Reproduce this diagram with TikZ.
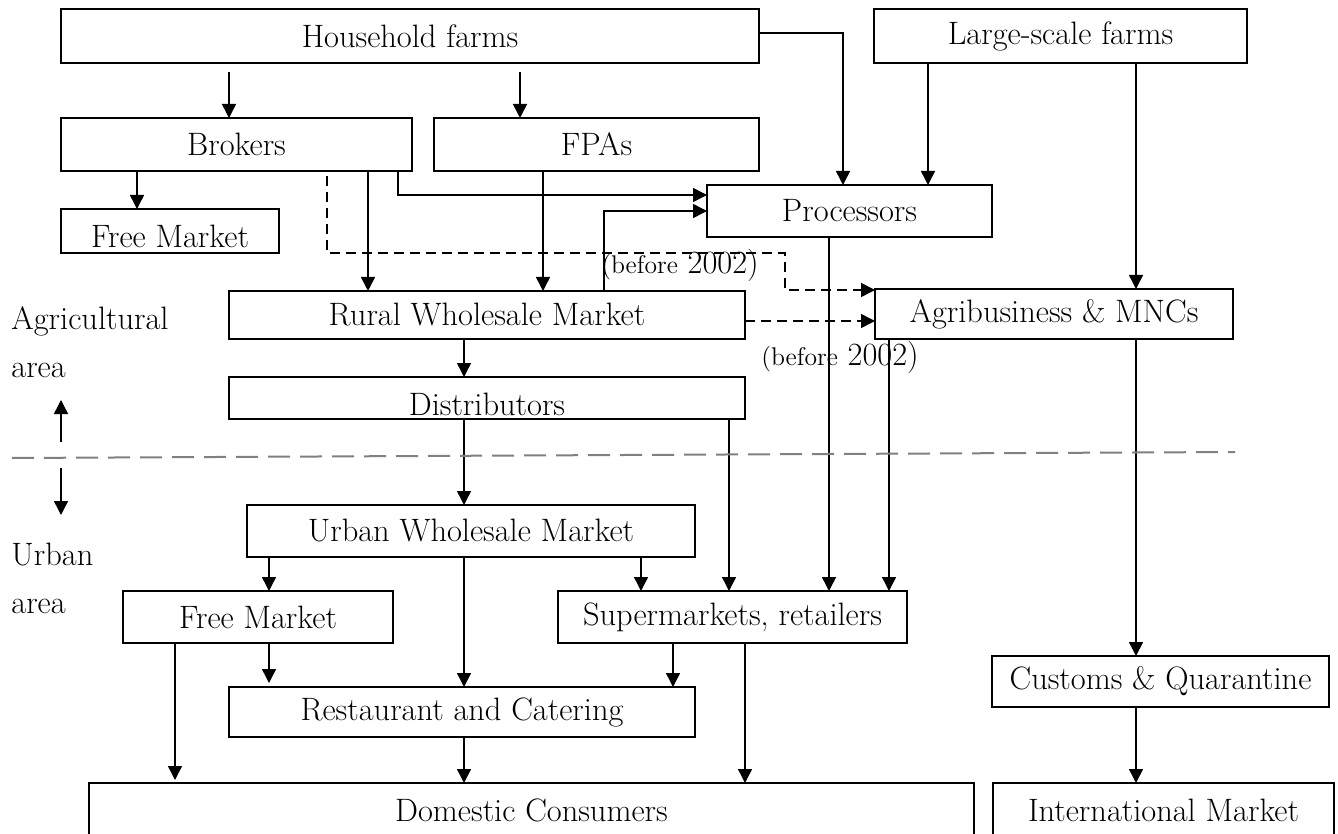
\documentclass[tikz,border=0pt]{standalone}
\usetikzlibrary{arrows.meta,calc}
\newcommand\figfont{\fontsize{16.2}{19}\selectfont}
\newcommand\smallfig{\fontsize{12.8}{15}\selectfont}
\begin{document}
\begin{tikzpicture}[x=0.5pt,y=-0.5pt,
  box/.style={draw, line width=0.6pt, inner sep=0pt, outer sep=0pt, font=\figfont},
  low/.style={text height=17pt, text depth=0pt},
  arr/.style={line width=0.75pt, -{Triangle[length=7pt,width=7pt]}},
  dsh/.style={arr, dash pattern=on 5pt off 3pt},
  lbl/.style={font=\figfont, inner sep=0pt, anchor=base west},
  note/.style={inner sep=0pt, font=\figfont}]
\useasboundingbox (0,0) rectangle (1338,834);
\clip (0,0) rectangle (1338,834);

% boxes
\node[box, minimum width=349pt,   minimum height=27pt]   (hh)      at (410,36)     {Household farms};
\node[box, minimum width=186.5pt, minimum height=27pt]   (large)   at (1060.5,36)  {Large-scale farms};
\node[box, minimum width=175.5pt, minimum height=26.5pt] (brokers) at (236.5,144.5){Brokers};
\node[box, minimum width=162.5pt, minimum height=26.5pt] (fpas)    at (596.5,144.5){FPAs};
\node[box, low, minimum width=109pt, minimum height=22pt] (fm1)    at (170,231)    {Free Market};
\node[box, minimum width=142.5pt, minimum height=26pt]   (proc)    at (849.5,211)  {Processors};
\node[box, minimum width=258pt,   minimum height=24pt]   (rural)   at (487,315)    {Rural Wholesale Market};
\node[box, minimum width=179pt,   minimum height=25pt]   (agri)    at (1054,314)   {Agribusiness \& MNCs};
\node[box, low, minimum width=258pt, minimum height=21pt] (dist)   at (487,398)    {Distributors};
\node[box, minimum width=224pt,   minimum height=26pt]   (urban)   at (471,531)    {Urban Wholesale Market};
\node[box, minimum width=135pt,   minimum height=26pt]   (fm2)     at (258,617)    {Free Market};
\node[box, minimum width=174.5pt, minimum height=26pt]   (super)   at (732.5,617)  {Supermarkets, retailers};
\node[box, minimum width=233pt,   minimum height=25pt]   (rest)    at (462,712)    {Restaurant and Catering};
\node[box, minimum width=168.5pt, minimum height=25.5pt] (customs) at (1160.5,681.5){Customs \& Quarantine};
\node[box, minimum width=442.5pt, minimum height=27pt]   (dom)     at (531.5,810)  {Domestic Consumers};
\node[box, minimum width=170.5pt, minimum height=27pt]   (intl)    at (1163.5,810) {International Market};

% side labels
\node[lbl] (agt)  at (11,329) {Agricultural};
\node[lbl] (aga)  at (11,377) {area};
\node[lbl] (urt)  at (11,565) {Urban};
\node[lbl] (ura)  at (11,613) {area};

% notes
\node[note] (bf1) at (680,265) {{\smallfig(before} 2002)};
\node[note] (bf2) at (840,357) {{\smallfig(before} 2002)};

% helper x positions
\foreach \x in {137,175,229,269,327,368,398,464,520,543,604,641,673,729,745,785,829,843,889,928,1136}
  \coordinate (a\x) at (\x,0);
\coordinate (b195) at (0,195);
\coordinate (b253) at (0,253);
\coordinate (b290) at (0,290);
\coordinate (b321) at (0,321);

% connectors
\draw[arr] ($(hh.south -| a229)+(0,9)$) -- (brokers.north -| a229);
\draw[arr] ($(hh.south -| a520)+(0,9)$) -- (fpas.north -| a520);
\draw[arr] ($(hh.east)+(0,-3)$) -| (proc.north -| a843);
\draw[arr] (brokers.south -| a137) -- (fm1.north -| a137);
\draw[dsh] ($(brokers.south -| a327)+(0,5)$) -- (a327 |- b253) -- (a785 |- b253) -- (a785 |- b290) -- (agri.west |- b290);
\draw[arr] (brokers.south -| a368) -- (rural.north -| a368);
\draw[arr] (brokers.south -| a398) |- (proc.west |- b195);
\draw[arr] (fpas.south -| a543) -- (rural.north -| a543);
\draw[arr] (rural.north -| a604) |- (proc.west);
\draw[arr] (large.south -| a928) -- (proc.north -| a928);
\draw[arr] (large.south -| a1136) -- (agri.north -| a1136);
\draw[dsh] (rural.east |- b321) -- (agri.west |- b321);
\draw[arr] (rural.south -| a464) -- (dist.north -| a464);
\draw[arr] (proc.south -| a829) -- (super.north -| a829);
\draw[arr] (agri.south -| a889) -- (super.north -| a889);
\draw[arr] (dist.south -| a464) -- (urban.north -| a464);
\draw[arr] (dist.south -| a729) -- (super.north -| a729);
\draw[arr] (urban.south -| a269) -- (fm2.north -| a269);
\draw[arr] (urban.south -| a464) -- (rest.north -| a464);
\draw[arr] (urban.south -| a641) -- (super.north -| a641);
\draw[arr] (fm2.south -| a175) -- ($(dom.north -| a175)+(0,-3)$);
\draw[arr] (fm2.south -| a269) -- ($(rest.north -| a269)+(0,-4)$);
\draw[arr] (super.south -| a673) -- (rest.north -| a673);
\draw[arr] (super.south -| a745) -- (dom.north -| a745);
\draw[arr] (rest.south -| a464) -- (dom.north -| a464);
\draw[arr] (agri.south -| a1136) -- (customs.north -| a1136);
\draw[arr] (customs.south -| a1136) -- (intl.north -| a1136);

% area divider and arrows
\coordinate (up0) at (61,442); \coordinate (up1) at (61,400);
\coordinate (dn0) at (61,468); \coordinate (dn1) at (61,515);
\draw[arr] (up0) -- (up1);
\draw[arr] (dn0) -- (dn1);
\coordinate (g0) at (12,458); \coordinate (g1) at (1235,452);
\draw[gray, line width=1pt, dash pattern=on 11pt off 5pt] (g0) -- (g1);
\end{tikzpicture}
\end{document}
